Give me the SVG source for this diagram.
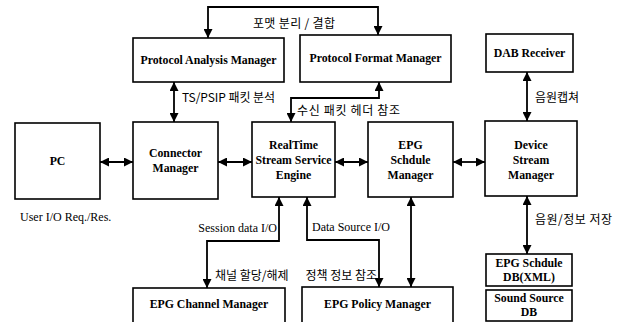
<svg xmlns="http://www.w3.org/2000/svg" width="619" height="322" viewBox="0 0 619 322">
<style>
.box{fill:#fff;stroke:#000;stroke-width:1.6}
.bt{font-family:"Liberation Serif","Times New Roman",serif;font-weight:bold;font-size:11.8px;text-anchor:middle;fill:#000}
.lt{font-family:"Liberation Serif","Times New Roman",serif;font-size:12px;fill:#000}
.kt{font-family:"Noto Sans CJK KR","Noto Sans",sans-serif;font-size:12px;fill:#000}
.cn{fill:none;stroke:#000;stroke-width:1.8}
.da{marker-start:url(#ah);marker-end:url(#ah)}
</style>
<defs>
<marker id="ah" viewBox="0 0 10 10" refX="10" refY="5" markerWidth="9" markerHeight="9" markerUnits="userSpaceOnUse" orient="auto-start-reverse">
<path d="M0,0 L10,5 L0,10 z" fill="#000"/>
</marker>
</defs>
<rect width="619" height="322" fill="#fff"/>
<g id="connectors">
<path class="cn da" d="M208,38 V7 H378 V35"/>
<path class="cn da" d="M174,82 V122"/>
<path class="cn da" d="M379,82 V98 H291 V122"/>
<path class="cn da" d="M100,162 H133"/>
<path class="cn da" d="M218,162 H252"/>
<path class="cn da" d="M335,162 H368"/>
<path class="cn da" d="M453,162 H485"/>
<path class="cn da" d="M527,72 V121"/>
<path class="cn da" d="M527,196 V254"/>
<path class="cn da" d="M279,197 V241 H207 V288"/>
<path class="cn da" d="M307,197 V240 H379 V287"/>
<path class="cn da" d="M411,197 V287"/>
<text class="kt" x="253" y="28" textLength="82" lengthAdjust="spacing">포맷 분리 / 결합</text>
<text class="kt" x="182" y="102" textLength="93" lengthAdjust="spacing">TS/PSIP 패킷 분석</text>
<text class="kt" x="297" y="115" textLength="103" lengthAdjust="spacing">수신 패킷 헤더 참조</text>
<text class="kt" x="535" y="102">음원캡쳐</text>
<text class="kt" x="535" y="224" textLength="77" lengthAdjust="spacing">음원/정보 저장</text>
<text class="lt" x="277" y="232" text-anchor="end">Session data I/O</text>
<text class="lt" x="312" y="231">Data Source I/O</text>
<text class="kt" x="215" y="280">채널 할당/해제</text>
<text class="kt" x="377" y="280" text-anchor="end">정책 정보 참조</text>
</g>
<g id="pam"><rect class="box" x="133" y="38" width="151" height="44"/><text class="bt" x="208.5" y="64">Protocol Analysis Manager</text></g>
<g id="pfm"><rect class="box" x="300" y="35" width="151" height="47"/><text class="bt" x="375.5" y="62">Protocol Format Manager</text></g>
<g id="dab"><rect class="box" x="486" y="34" width="87" height="38"/><text class="bt" x="529.5" y="57">DAB Receiver</text></g>
<g id="pc"><rect class="box" x="15" y="123" width="85" height="76"/><text class="bt" x="57.5" y="165">PC</text></g>
<text class="lt" x="20" y="221">User I/O Req./Res.</text>
<g id="connector"><rect class="box" x="133" y="122" width="85" height="77"/><text class="bt" x="175.5" y="157">Connector</text><text class="bt" x="175.5" y="172">Manager</text></g>
<g id="realtime"><rect class="box" x="252" y="122" width="83" height="75"/><text class="bt" x="293.5" y="149">RealTime</text><text class="bt" x="293.5" y="164">Stream Service</text><text class="bt" x="293.5" y="179">Engine</text></g>
<g id="epgsched"><rect class="box" x="368" y="122" width="85" height="75"/><text class="bt" x="410.5" y="149">EPG</text><text class="bt" x="410.5" y="164">Schdule</text><text class="bt" x="410.5" y="179">Manager</text></g>
<g id="dsm"><rect class="box" x="485" y="121" width="92" height="75"/><text class="bt" x="531" y="149">Device</text><text class="bt" x="531" y="164">Stream</text><text class="bt" x="531" y="179">Manager</text></g>
<g id="epgdb"><rect class="box" x="486" y="254" width="86" height="32"/><text class="bt" x="529" y="267">EPG Schdule</text><text class="bt" x="529" y="281">DB(XML)</text></g>
<g id="sounddb"><rect class="box" x="486" y="290" width="86" height="31"/><text class="bt" x="529" y="302">Sound Source</text><text class="bt" x="529" y="316">DB</text></g>
<g id="epgchannel"><rect class="box" x="133" y="288" width="152" height="40"/><text class="bt" x="209" y="308">EPG Channel Manager</text></g>
<g id="epgpolicy"><rect class="box" x="302" y="287" width="151" height="40"/><text class="bt" x="377.5" y="308">EPG Policy Manager</text></g>
</svg>
